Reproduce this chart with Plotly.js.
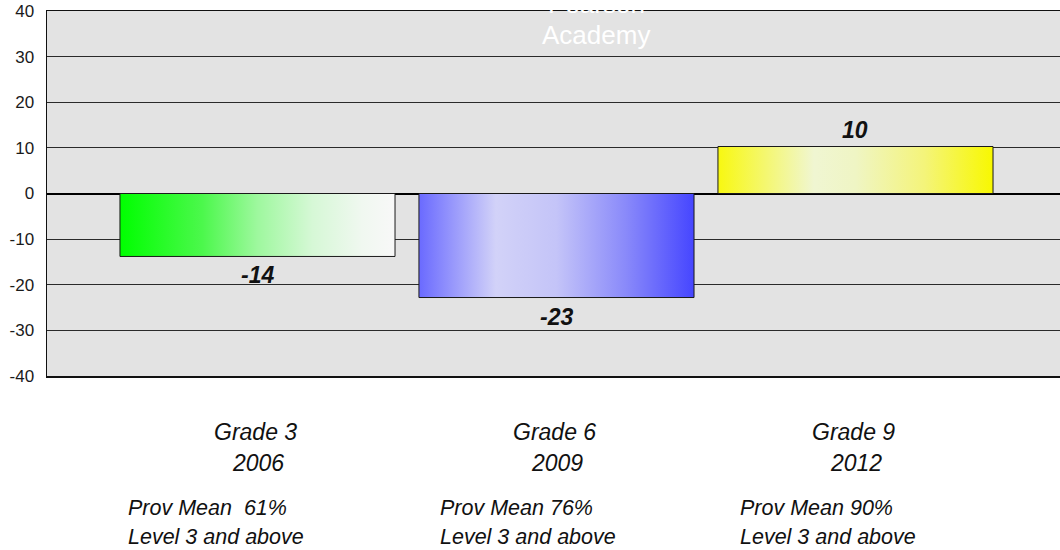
<!DOCTYPE html>
<html>
<head>
<meta charset="utf-8">
<script src="https://cdn.plot.ly/plotly-3.0.1.min.js"></script>
<style>html,body{margin:0;padding:0;background:#fff;}#chart{width:1060px;height:550px;}</style>
</head>
<body>
<div id="chart"></div>
<script>
// ---- data ----
const grades = ["Grade 3", "Grade 6", "Grade 9"];
const years = ["2006", "2009", "2012"];
const provMeans = ["Prov Mean  61%", "Prov Mean 76%", "Prov Mean 90%"];
const provLevel = ["Level 3 and above", "Level 3 and above", "Level 3 and above"];
const values = [-13.8, -22.8, 10.3];
const valueLabels = ["-14", "-23", "10"];
const yTickValues = [-40, -30, -20, -10, 0, 10, 20, 30, 40];
const yTickLabels = ["-40", "-30", "-20", "-10", "0", "10", "20", "30", "40"];
const titleLines = ["Pearson", "Academy"];

// ---- styles ----
const FONT = "Liberation Sans, Arial, sans-serif";
const barWidth = 0.92;
const gradients = [
  [[0, "#00ff00"], [0.3, "#4cf84c"], [0.5, "#9ef89e"], [0.7, "#d6f8d6"], [0.88, "#f0f8f0"], [1, "#f8f8f8"]],
  [[0, "#6a6aff"], [0.28, "#d2d2f8"], [0.5, "#c4c4f8"], [0.75, "#8a8afa"], [1, "#4646ff"]],
  [[0, "#f8f810"], [0.35, "#f0f6d2"], [0.5, "#eff5c4"], [0.75, "#f4f47a"], [1, "#f8f800"]]
];
const provShift = [-131, -118, -117];

const traces = values.map((v, i) => ({
  type: "scatter",
  mode: "lines",
  x: [i - barWidth / 2, i - barWidth / 2, i + barWidth / 2, i + barWidth / 2, i - barWidth / 2],
  y: [0, v, v, 0, 0],
  fill: "toself",
  fillgradient: { type: "horizontal", colorscale: gradients[i] },
  line: { color: "#1a1a1a", width: 1 },
  hoverinfo: "skip",
  showlegend: false
}));

const annotations = [];
values.forEach((v, i) => {
  annotations.push({
    x: i, y: v, xref: "x", yref: "y", text: "<b><i>" + valueLabels[i] + "</i></b>",
    showarrow: false, yanchor: "middle", yshift: v < 0 ? -19 : 17,
    font: { family: FONT, size: 23, color: "#111" }
  });
  annotations.push({
    x: i, y: -0.1535, xref: "x", yref: "paper", text: "<i>" + grades[i] + "</i>",
    showarrow: false, yanchor: "middle", xshift: -2,
    font: { family: FONT, size: 23, color: "#111" }
  });
  annotations.push({
    x: i, y: -0.2385, xref: "x", yref: "paper", text: "<i>" + years[i] + "</i>",
    showarrow: false, yanchor: "middle", xshift: 1,
    font: { family: FONT, size: 23, color: "#111" }
  });
  annotations.push({
    x: i, y: -0.3625, xref: "x", yref: "paper", text: "<i>" + provMeans[i] + "</i>",
    showarrow: false, yanchor: "middle", xanchor: "left", xshift: provShift[i],
    font: { family: FONT, size: 21.5, color: "#111" }
  });
  annotations.push({
    x: i, y: -0.442, xref: "x", yref: "paper", text: "<i>" + provLevel[i] + "</i>",
    showarrow: false, yanchor: "middle", xanchor: "left", xshift: provShift[i],
    font: { family: FONT, size: 21.5, color: "#111" }
  });
});
annotations.push({
  x: 0.542, y: 1.02, xref: "paper", yref: "paper", text: titleLines[0],
  showarrow: false, yanchor: "middle", font: { family: FONT, size: 26, color: "#ffffff" }
});
annotations.push({
  x: 0.542, y: 0.933, xref: "paper", yref: "paper", text: titleLines[1],
  showarrow: false, yanchor: "middle", font: { family: FONT, size: 26, color: "#ffffff" }
});

const layout = {
  width: 1060, height: 550,
  margin: { l: 47, r: 0, t: 11, b: 174, pad: 0 },
  paper_bgcolor: "#ffffff",
  plot_bgcolor: "#e3e3e3",
  showlegend: false,
  hovermode: false,
  xaxis: {
    range: [-0.704, 2.684], showgrid: false, zeroline: false, showticklabels: false,
    showline: true, mirror: true, linecolor: "#111", linewidth: 1.5, ticks: "", fixedrange: true
  },
  yaxis: {
    range: [-40, 40], tickmode: "array", tickvals: yTickValues, ticktext: yTickLabels,
    showgrid: true, gridcolor: "#2a2a2a", gridwidth: 1,
    zeroline: true, zerolinecolor: "#000", zerolinewidth: 2,
    showline: true, linecolor: "#111", linewidth: 1.5, ticks: "",
    ticklabelstandoff: 8,
    tickfont: { family: FONT, size: 17, color: "#1a1a1a" }, fixedrange: true
  },
  annotations: annotations
};

Plotly.newPlot("chart", traces, layout, { displayModeBar: false, staticPlot: true });
</script>
</body>
</html>
